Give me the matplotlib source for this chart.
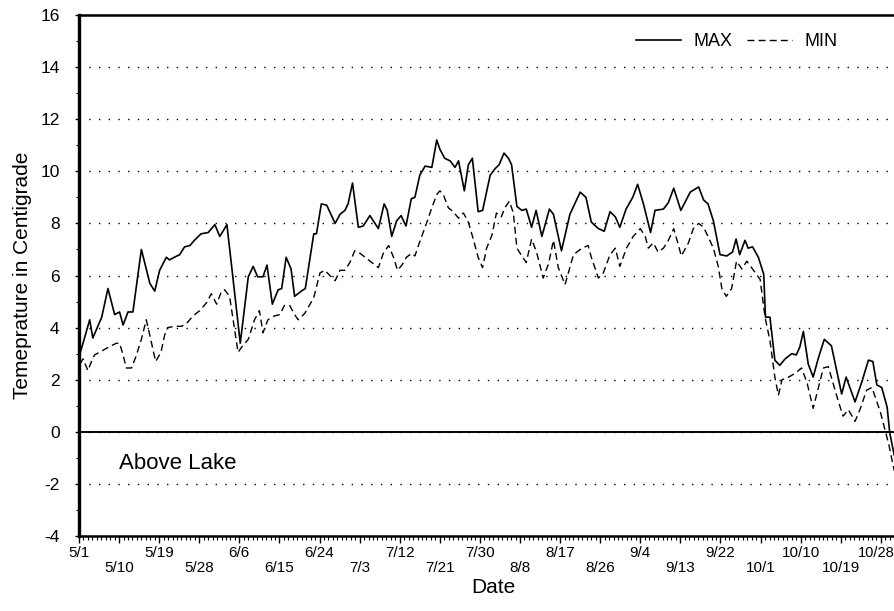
import matplotlib
matplotlib.use("Agg")
import matplotlib.pyplot as plt
from matplotlib.ticker import MultipleLocator
from matplotlib.lines import Line2D

plt.rcParams['font.family'] = ['Liberation Sans', 'DejaVu Sans']
plt.rcParams['axes.unicode_minus'] = False

# dias desde 5/1 e temperaturas
max_days = [0.2, 0.9, 2.4, 3.1, 5.1, 6.5, 8.0, 9.1, 9.9, 11.0, 12.1, 14.0, 15.9, 17.0, 18.1,
            19.6, 20.3, 21.4, 22.6, 23.7, 24.9, 25.9, 27.4, 29.0, 30.5, 31.6, 33.2, 34.2,
            36.2, 38.0, 39.1, 40.1, 41.3, 42.2, 43.4, 44.7, 45.5, 46.5, 47.6, 48.4, 49.9,
            50.8, 52.7, 53.3, 54.4, 55.6, 57.5, 58.6, 59.7, 60.4, 61.4, 62.7, 63.8, 65.3,
            67.2, 68.5, 69.2, 70.2, 71.3, 72.3, 73.4, 74.6, 75.4, 76.5, 77.7, 79.2, 80.3,
            81.0, 82.1, 83.3, 84.4, 85.2, 86.5, 87.4, 88.3, 89.6, 90.6, 92.3, 93.4, 94.3,
            95.4, 96.4, 97.1, 98.3, 99.4, 100.4, 101.6, 102.6, 103.9, 105.6, 106.5, 108.3,
            110.2, 112.5, 113.8, 115.0, 116.6, 117.9, 119.2, 120.4, 121.4, 122.8, 124.3,
            125.4, 126.7, 128.3, 129.3, 131.2, 132.3, 133.5, 135.1, 137.2, 139.1, 140.2,
            141.2, 142.4, 143.9, 145.4, 146.7, 147.5, 148.3, 149.5, 150.2, 151.2, 152.5,
            153.7, 154.1, 155.1, 156.2, 157.3, 158.5, 160.0, 161.0, 161.8, 162.6, 163.7,
            164.8, 166.0, 167.3, 168.9, 170.4, 171.2, 172.2, 174.2, 175.7, 177.2, 178.2,
            179.1, 180.2, 181.4, 182.0, 183.0]
max_vals = [3.0, 3.4, 4.3, 3.6, 4.4, 5.5, 4.5, 4.6, 4.1, 4.6, 4.6, 7.0, 5.7, 5.4, 6.2,
            6.7, 6.6, 6.7, 6.8, 7.1, 7.15, 7.35, 7.6, 7.65, 7.95, 7.5, 7.95, 6.45,
            3.4, 5.95, 6.35, 5.95, 5.95, 6.4, 4.9, 5.45, 5.5, 6.7, 6.25, 5.2, 5.4,
            5.5, 7.6, 7.6, 8.75, 8.7, 8.0, 8.35, 8.5, 8.75, 9.55, 7.85, 7.9, 8.3,
            7.8, 8.75, 8.5, 7.5, 8.1, 8.3, 7.9, 8.95, 9.0, 9.85, 10.2, 10.15, 11.2,
            10.85, 10.5, 10.4, 10.15, 10.4, 9.25, 10.25, 10.5, 8.45, 8.5, 9.85, 10.1, 10.25,
            10.7, 10.5, 10.25, 8.65, 8.5, 8.55, 7.85, 8.5, 7.5, 8.55, 8.35, 6.95,
            8.35, 9.2, 9.0, 8.05, 7.8, 7.7, 8.45, 8.25, 7.85, 8.55, 9.0,
            9.5, 8.75, 7.65, 8.5, 8.55, 8.8, 9.35, 8.5, 9.2, 9.4, 8.9,
            8.75, 8.1, 6.8, 6.75, 6.9, 7.4, 6.8, 7.35, 7.05, 7.1, 6.7,
            6.05, 4.4, 4.4, 2.75, 2.55, 2.8, 3.0, 2.95, 3.25, 3.85, 2.6,
            2.1, 2.85, 3.55, 3.3, 2.1, 1.45, 2.1, 1.15, 1.9, 2.75, 2.7,
            1.8, 1.7, 0.95, -0.05, -0.9]

min_days = [0.2, 0.9, 2.0, 2.8, 3.5, 5.1, 6.1, 7.2, 8.4, 9.1, 9.9, 10.6, 11.8, 12.8, 14.0,
            15.1, 15.9, 17.2, 18.4, 19.2, 19.9, 21.5, 23.0, 24.1, 25.6, 27.1, 28.6, 29.7,
            30.9, 32.0, 32.7, 33.8, 34.6, 35.7, 36.5, 38.0, 39.4, 40.5, 41.3, 42.4, 43.9,
            45.1, 46.1, 47.3, 48.4, 49.2, 50.7, 52.7, 54.1, 55.2, 56.3, 57.5, 58.6, 59.7,
            60.8, 61.9, 63.1, 64.6, 66.1, 67.2, 68.3, 69.5, 70.6, 71.5, 72.5, 73.5, 74.7,
            75.4, 76.5, 78.1, 79.2, 80.3, 81.0, 81.8, 82.9, 84.0, 85.2, 86.3, 87.4, 88.5,
            89.6, 90.6, 91.5, 92.7, 93.7, 94.8, 95.6, 96.6, 97.5, 98.3, 99.4, 100.4,
            101.6, 102.7, 104.2, 105.4, 106.5, 107.6, 109.1, 111.0, 112.9, 114.3, 115.0,
            116.6, 117.7, 119.2, 120.4, 121.4, 122.9, 124.4, 126.0, 127.1, 127.8, 128.9,
            130.0, 131.2, 132.3, 133.5, 134.5, 135.2, 136.8, 137.9, 139.1, 140.2, 141.2,
            142.4, 143.5, 144.3, 145.3, 146.5, 147.6, 148.8, 149.9, 151.4, 152.9, 154.0,
            155.1, 156.2, 157.0, 157.8, 159.3, 160.8, 162.2, 163.4, 164.8, 166.0, 167.1,
            168.2, 169.3, 170.4, 171.5, 172.7, 174.2, 175.3, 176.8, 178.0, 179.0, 179.9,
            181.1, 181.8, 183.0]
min_vals = [2.6, 2.8, 2.35, 2.7, 2.95, 3.1, 3.2, 3.3, 3.4, 3.4, 2.95, 2.45, 2.45, 2.9, 3.55,
            4.3, 3.7, 2.7, 3.05, 3.7, 4.0, 4.05, 4.05, 4.15, 4.45, 4.65, 4.95, 5.3,
            4.9, 5.4, 5.45, 5.2, 4.3, 3.05, 3.25, 3.55, 4.3, 4.65, 3.8, 4.3, 4.45,
            4.5, 4.85, 4.85, 4.5, 4.3, 4.55, 5.15, 6.1, 6.2, 6.0, 5.8, 6.2, 6.2,
            6.5, 6.95, 6.85, 6.65, 6.45, 6.3, 6.85, 7.15, 6.7, 6.2, 6.4, 6.7, 6.85,
            6.75, 7.3, 8.05, 8.6, 9.1, 9.25, 9.1, 8.6, 8.45, 8.2, 8.4, 8.05, 7.4,
            6.7, 6.3, 7.05, 7.55, 8.4, 8.25, 8.6, 8.85, 8.4, 7.05, 6.75, 6.5,
            7.4, 6.9, 5.9, 6.45, 7.35, 6.3, 5.65, 6.8, 7.05, 7.15, 6.7,
            5.9, 6.1, 6.8, 7.05, 6.35, 7.05, 7.5, 7.8, 7.5, 7.05, 7.25,
            6.9, 7.05, 7.35, 7.8, 7.2, 6.75, 7.25, 7.8, 8.0, 7.85, 7.5,
            7.05, 6.35, 5.5, 5.2, 5.5, 6.55, 6.25, 6.55, 6.2, 5.85, 4.4,
            3.5, 2.1, 1.4, 2.0, 2.1, 2.25, 2.45, 1.9, 0.9, 1.7, 2.45,
            2.5, 1.85, 1.2, 0.6, 0.85, 0.4, 0.85, 1.6, 1.7, 1.2, 0.75,
            -0.05, -0.5, -1.5]

date_labels = ['5/1', '5/10', '5/19', '5/28', '6/6', '6/15', '6/24', '7/3', '7/12', '7/21',
               '7/30', '8/8', '8/17', '8/26', '9/4', '9/13', '9/22', '10/1', '10/10',
               '10/19', '10/28']
y_ticks = [-4, -2, 0, 2, 4, 6, 8, 10, 12, 14, 16]


def plotar():
    fig = plt.figure(figsize=(8.95, 6.11), dpi=100)
    # o eixo passa da borda direita, como no original
    ax = fig.add_axes([79 / 895, 1 - 536 / 611, 828.6 / 895, 521 / 611])

    ax.plot(max_days, max_vals, color='black', linewidth=1.2)
    ax.plot(min_days, min_vals, color='black', linewidth=1.0, dashes=(5, 3))

    ax.set_xlim(0, 186)
    ax.set_ylim(-4, 16)

    # linha do zero e grade pontilhada
    ax.axhline(0, color='black', linewidth=1.4)
    ax.set_yticks(y_ticks)
    ax.grid(axis='y', color='black', linestyle=(0, (1, 6)), linewidth=1.0)

    # rotulos de data em duas linhas alternadas
    posicoes = [9 * i for i in range(len(date_labels))]
    labels = [lab if i % 2 == 0 else '\n' + lab for i, lab in enumerate(date_labels)]
    labels[-1] = ''
    ax.set_xticks(posicoes)
    ax.set_xticklabels(labels, fontsize=11, linespacing=1.15)
    # ultimo rotulo desenhado a parte, um pouco para a esquerda, para caber
    ax.annotate(date_labels[-1], xy=(posicoes[-1], 0), xycoords=('data', 'axes fraction'),
                xytext=(-3, -7), textcoords='offset points', ha='center', va='top',
                fontsize=10.5)
    ax.xaxis.set_minor_locator(MultipleLocator(1))
    ax.yaxis.set_minor_locator(MultipleLocator(1))
    ax.tick_params(axis='x', which='major', length=5, width=1, pad=2)
    ax.tick_params(axis='x', which='minor', length=3, width=0.8)
    ax.tick_params(axis='y', which='major', length=3, width=1, labelsize=12.5, pad=11)
    ax.tick_params(axis='y', which='minor', length=2, width=0.8)

    for lado, lw in [('left', 2.4), ('top', 1.8), ('bottom', 1.8)]:
        ax.spines[lado].set_linewidth(lw)
    ax.spines['right'].set_visible(False)

    ax.set_ylabel('Temeprature in Centigrade', fontsize=15, labelpad=6)
    ax.set_xlabel('Date', fontsize=15, labelpad=2)

    ax.text(9, -1.2, 'Above Lake', fontsize=16, va='center', ha='left')

    handles = [Line2D([], [], color='black', linewidth=1.2),
               Line2D([], [], color='black', linewidth=1.0, dashes=(5, 3))]
    fig.legend(handles, ['MAX', 'MIN'], ncol=2, frameon=False, fontsize=13,
               loc='center left', bbox_to_anchor=(636 / 895, 1 - 42 / 611),
               borderpad=0, borderaxespad=0, handlelength=2.5, handletextpad=0.7,
               columnspacing=0.8)

    fig.savefig('out.png', dpi=100)


if __name__ == "__main__":
    plotar()
